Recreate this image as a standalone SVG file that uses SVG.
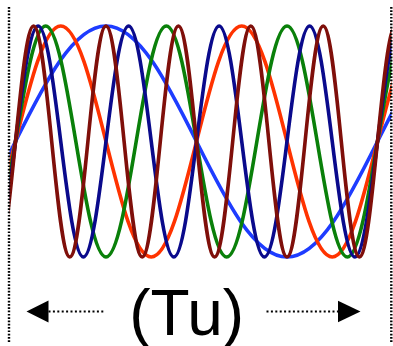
<svg xmlns="http://www.w3.org/2000/svg" width="393" height="346" viewBox="0 0 393 346">
<style>
.w{fill:none;stroke-width:3.6;stroke-linejoin:round}
.vd{stroke:#000;stroke-width:2.4;stroke-dasharray:1.7 1.6;fill:none}
.hd{stroke:#000;stroke-width:2.2;stroke-dasharray:2 2.4;fill:none}
.lbl{font-family:"Liberation Sans",Arial,sans-serif;font-size:64px;fill:#000}
</style>
<defs>
<clipPath id="clip"><rect x="9.5" y="0" width="382" height="346"/></clipPath>
</defs>
<rect width="393" height="346" fill="#fff"/>
<g id="waves" clip-path="url(#clip)">
<path id="wave1" class="w" stroke="#1e3cff" d="M-75,257 c32.75,0 60.98,-56.33 90.5,-115.5 s57.75,-115.5 90.5,-115.5 s60.98,56.33 90.5,115.5 s57.75,115.5 90.5,115.5 s60.98,-56.33 90.5,-115.5 s57.75,-115.5 90.5,-115.5"/>
<path id="wave2" class="w" stroke="#ff3300" d="M-29.75,257 c16.38,0 30.49,-56.33 45.25,-115.5 s28.87,-115.5 45.25,-115.5 s30.49,56.33 45.25,115.5 s28.87,115.5 45.25,115.5 s30.49,-56.33 45.25,-115.5 s28.87,-115.5 45.25,-115.5 s30.49,56.33 45.25,115.5 s28.87,115.5 45.25,115.5 s30.49,-56.33 45.25,-115.5 s28.87,-115.5 45.25,-115.5"/>
<path id="wave3" class="w" stroke="#0a800a" d="M-14.67,257 c10.92,0 20.33,-56.33 30.17,-115.5 s19.25,-115.5 30.17,-115.5 s20.33,56.33 30.17,115.5 s19.25,115.5 30.17,115.5 s20.33,-56.33 30.17,-115.5 s19.25,-115.5 30.17,-115.5 s20.33,56.33 30.17,115.5 s19.25,115.5 30.17,115.5 s20.33,-56.33 30.17,-115.5 s19.25,-115.5 30.17,-115.5 s20.33,56.33 30.17,115.5 s19.25,115.5 30.17,115.5 s20.33,-56.33 30.17,-115.5 s19.25,-115.5 30.17,-115.5"/>
<path id="wave4" class="w" stroke="#0a0a8c" d="M-7.125,257 c8.19,0 15.25,-56.33 22.625,-115.5 s14.44,-115.5 22.625,-115.5 s15.25,56.33 22.625,115.5 s14.44,115.5 22.625,115.5 s15.25,-56.33 22.625,-115.5 s14.44,-115.5 22.625,-115.5 s15.25,56.33 22.625,115.5 s14.44,115.5 22.625,115.5 s15.25,-56.33 22.625,-115.5 s14.44,-115.5 22.625,-115.5 s15.25,56.33 22.625,115.5 s14.44,115.5 22.625,115.5 s15.25,-56.33 22.625,-115.5 s14.44,-115.5 22.625,-115.5 s15.25,56.33 22.625,115.5 s14.44,115.5 22.625,115.5 s15.25,-56.33 22.625,-115.5 s14.44,-115.5 22.625,-115.5"/>
<path id="wave5" class="w" stroke="#7f0f0a" d="M-2.6,257 c6.55,0 12.2,-56.33 18.1,-115.5 s11.55,-115.5 18.1,-115.5 s12.2,56.33 18.1,115.5 s11.55,115.5 18.1,115.5 s12.2,-56.33 18.1,-115.5 s11.55,-115.5 18.1,-115.5 s12.2,56.33 18.1,115.5 s11.55,115.5 18.1,115.5 s12.2,-56.33 18.1,-115.5 s11.55,-115.5 18.1,-115.5 s12.2,56.33 18.1,115.5 s11.55,115.5 18.1,115.5 s12.2,-56.33 18.1,-115.5 s11.55,-115.5 18.1,-115.5 s12.2,56.33 18.1,115.5 s11.55,115.5 18.1,115.5 s12.2,-56.33 18.1,-115.5 s11.55,-115.5 18.1,-115.5 s12.2,56.33 18.1,115.5 s11.55,115.5 18.1,115.5 s12.2,-56.33 18.1,-115.5 s11.55,-115.5 18.1,-115.5"/>
</g>
<g id="bounds">
<line class="vd" x1="9" y1="7" x2="9" y2="343"/>
<line class="vd" x1="391.3" y1="7" x2="391.3" y2="343"/>
</g>
<g id="connectors">
<line class="hd" x1="48.5" y1="311.5" x2="105" y2="311.5"/>
<polygon points="26.5,311.5 48.5,300.5 48.5,322.5" fill="#000"/>
<line class="hd" x1="266.5" y1="311.5" x2="338" y2="311.5"/>
<polygon points="360.5,311.5 338,300.8 338,322.2" fill="#000"/>
</g>
<g id="label">
<text class="lbl" x="186.7" y="335" text-anchor="middle">(Tu)</text>
</g>
</svg>
